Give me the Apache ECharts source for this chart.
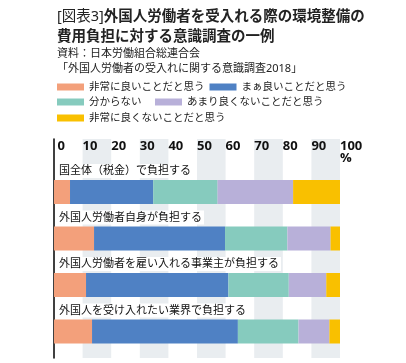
<!DOCTYPE html>
<html><head><meta charset="utf-8">
<script src="https://cdn.jsdelivr.net/npm/echarts@6/dist/echarts.min.js"></script>
<style>html,body{margin:0;padding:0;background:#fff}#c{width:406px;height:363px}</style>
</head><body><div id="c"></div>
<script>
const categories = ['国全体（税金）で負担する','外国人労働者自身が負担する','外国人労働者を雇い入れる事業主が負担する','外国人を受け入れたい業界で負担する'];
const seriesNames = ['非常に良いことだと思う','まぁ良いことだと思う','分からない','あまり良くないことだと思う','非常に良くないことだと思う'];
const veryGood = [5.6, 14.0, 11.2, 13.3];
const fairlyGood = [29.1, 45.8, 49.8, 51.0];
const unknown = [22.5, 21.8, 21.1, 21.2];
const notGood = [26.4, 15.1, 13.1, 10.8];
const veryBad = [16.4, 3.3, 4.9, 3.7];
const tickLabels = [0,10,20,30,40,50,60,70,80,90,100];
const colors = ['#F3A07B','#4F81C4','#86CBBE','#B8B0D9','#F9C000'];
const values = [veryGood, fairlyGood, unknown, notGood, veryBad];
const FONT = '"Noto Sans", "Noto Sans CJK JP", sans-serif';

const chart = echarts.init(document.getElementById('c'), null, {renderer:'canvas'});
const series = seriesNames.map((n,i)=>({
  name:n, type:'bar', stack:'all', xAxisIndex:1, yAxisIndex:1,
  barWidth:24, data: values[i], itemStyle:{color:colors[i]},
  label: i===0 ? {show:true, position:[3,-16], formatter:'{b}', color:'#111', fontSize:11,
    fontFamily:FONT, backgroundColor:'#fff', padding:[0,2,0,2], lineHeight:14} : {show:false},
  emphasis:{disabled:true}
}));
series.push({type:'line', xAxisIndex:0, yAxisIndex:0, data:[], silent:true});

const legendBase = {icon:'rect', itemWidth:27, itemHeight:7, orient:'horizontal',
  textStyle:{fontSize:10.5, color:'#222', fontFamily:FONT, lineHeight:14}, selectedMode:false};
chart.setOption({
  animation:false,
  title:[
    {left:52, top:2, text:'{n|[図表3]}{b|外国人労働者を受入れる際の環境整備の}\n{b|費用負担に対する意識調査の一例}',
     textStyle:{rich:{
       n:{fontSize:14.5, fontWeight:'normal', color:'#222', fontFamily:FONT, lineHeight:20},
       b:{fontSize:14.5, fontWeight:'bold', color:'#222', fontFamily:FONT, lineHeight:20}}}},
    {left:52, top:41, text:'資料：日本労働組合総連合会\n「外国人労働者の受入れに関する意識調査2018」',
     textStyle:{fontSize:11, fontWeight:'normal', color:'#222', fontFamily:FONT, lineHeight:15}}
  ],
  legend:[
    Object.assign({}, legendBase, {left:52, top:75, itemGap:5, data:[seriesNames[0], seriesNames[1]]}),
    Object.assign({}, legendBase, {left:52, top:90, itemGap:13.5, data:[seriesNames[2], seriesNames[3]]}),
    Object.assign({}, legendBase, {left:52, top:106, data:[seriesNames[4]]})
  ],
  grid:[
    {left:54, right:66, top:139, bottom:5},
    {left:54, right:66, top:168.75, height:186}
  ],
  xAxis:[
    {gridIndex:0, type:'value', position:'top', min:0, max:100, interval:10,
     axisLine:{show:false}, axisTick:{show:false}, splitLine:{show:false},
     splitArea:{show:true, areaStyle:{color:['rgba(255,255,255,0)','#E9EDF0']}},
     axisLabel:{inside:true, margin:1, align:'left', verticalAlign:'top', fontSize:13, fontWeight:'bold',
       color:'#111', fontFamily:'"Open Sans", "Liberation Sans", sans-serif', lineHeight:12,
       formatter:(v)=> tickLabels.indexOf(v)<0 ? '' : (v===100 ? '100\n%' : (v===0 ? ' '+v : String(v)))}},
    {gridIndex:1, type:'value', min:0, max:100, show:false}
  ],
  yAxis:[
    {gridIndex:0, type:'value', min:0, max:1, axisLine:{show:true, lineStyle:{color:'#000', width:1.5}},
     axisTick:{show:false}, axisLabel:{show:false}, splitLine:{show:false}},
    {gridIndex:1, type:'category', inverse:true, data:categories, show:false}
  ],
  series: series
});
</script></body></html>
